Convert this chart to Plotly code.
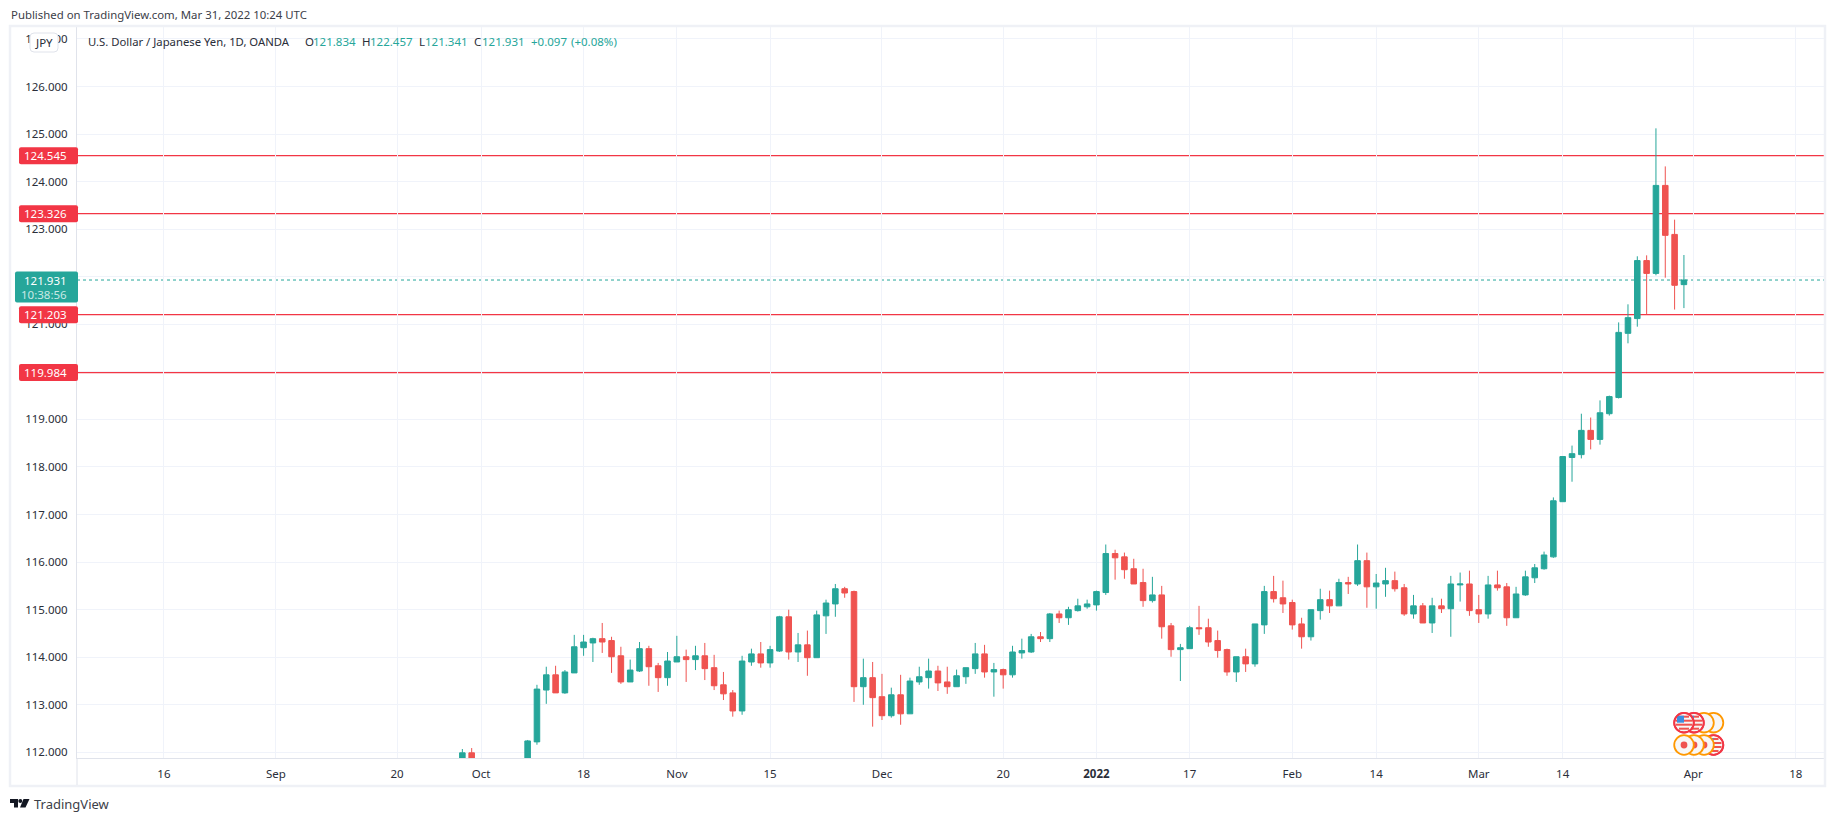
import plotly.graph_objects as go

# bar position: trading days counted from 2021-10-01 (weekends are not on the axis)
bar_index = [-2, -1] + list(range(5, 130))
open_ = [111.50, 111.99, 111.60, 112.22, 113.31, 113.63, 113.25, 113.67, 114.20, 114.30,
         114.39, 114.35, 114.03, 113.48, 113.71, 114.18, 113.82, 113.57, 113.90, 114.01,
         113.95, 114.03, 113.78, 113.42, 113.25, 112.87, 113.90, 114.07, 113.88, 114.13,
         114.85, 114.11, 114.26, 113.99, 114.87, 115.12, 115.44, 115.38, 113.38, 113.57,
         113.17, 112.77, 113.21, 112.81, 113.48, 113.57, 113.71, 113.48, 113.38, 113.59,
         113.76, 114.07, 113.69, 113.74, 113.63, 114.09, 114.11, 114.43, 114.39, 114.91,
         114.83, 114.98, 115.06, 115.10, 115.36, 116.18, 116.11, 115.86, 115.57, 115.19,
         115.31, 114.66, 114.16, 114.18, 114.62, 114.62, 114.35, 114.16, 113.69, 114.01,
         113.86, 114.68, 115.38, 115.25, 115.15, 114.70, 114.43, 114.98, 115.21, 115.08,
         115.57, 115.54, 116.03, 115.48, 115.54, 115.61, 115.46, 114.91, 115.08, 114.72,
         115.08, 115.02, 115.52, 115.54, 115.00, 114.91, 115.52, 115.48, 114.83, 115.31,
         115.67, 115.86, 116.11, 117.27, 118.20, 118.26, 118.77, 118.58, 119.12, 119.46,
         120.81, 121.12, 122.34, 122.07, 123.92, 122.89, 121.834]
high = [112.07, 112.09, 112.26, 113.42, 113.80, 113.82, 113.73, 114.47, 114.47, 114.41,
        114.72, 114.43, 114.22, 113.95, 114.32, 114.24, 113.88, 114.11, 114.45, 114.16,
        114.24, 114.30, 114.05, 113.69, 113.31, 114.03, 114.18, 114.32, 114.24, 114.87,
        115.00, 114.51, 114.56, 114.98, 115.21, 115.54, 115.48, 115.40, 113.97, 113.90,
        113.65, 113.36, 113.63, 113.57, 113.80, 113.97, 113.82, 113.80, 113.74, 113.78,
        114.30, 114.26, 113.88, 113.76, 114.24, 114.39, 114.49, 114.53, 114.93, 114.98,
        115.06, 115.23, 115.21, 115.40, 116.37, 116.26, 116.20, 116.07, 115.86, 115.69,
        115.50, 114.72, 114.28, 114.66, 115.08, 114.81, 114.56, 114.18, 114.01, 114.18,
        114.70, 115.50, 115.71, 115.61, 115.21, 114.83, 115.00, 115.44, 115.40, 115.65,
        115.69, 116.37, 116.20, 115.75, 115.88, 115.80, 115.54, 115.31, 115.14, 115.25,
        115.23, 115.71, 115.78, 115.82, 115.31, 115.71, 115.82, 115.56, 115.48, 115.82,
        115.96, 116.22, 117.36, 118.22, 118.45, 119.12, 119.04, 119.40, 119.50, 121.04,
        121.42, 122.43, 122.45, 125.12, 124.32, 123.20, 122.457]
low = [111.40, 111.20, 111.50, 112.16, 113.02, 113.25, 113.23, 113.67, 114.03, 113.90,
       114.09, 113.67, 113.44, 113.48, 113.69, 113.40, 113.27, 113.40, 113.90, 113.48,
       113.73, 113.52, 113.31, 113.10, 112.75, 112.79, 113.82, 113.78, 113.78, 114.11,
       113.95, 113.90, 113.61, 113.99, 114.49, 114.85, 115.25, 113.06, 113.00, 112.54,
       112.68, 112.73, 112.58, 112.81, 113.42, 113.34, 113.29, 113.23, 113.38, 113.44,
       113.65, 113.57, 113.17, 113.34, 113.57, 113.97, 114.09, 114.32, 114.32, 114.72,
       114.68, 114.96, 115.02, 114.98, 115.31, 115.63, 115.65, 115.54, 115.06, 115.15,
       114.39, 114.01, 113.50, 114.18, 114.47, 114.22, 113.99, 113.61, 113.48, 113.69,
       113.80, 114.49, 115.15, 114.93, 114.58, 114.18, 114.35, 114.79, 114.93, 115.08,
       115.33, 115.50, 115.04, 115.02, 115.27, 115.38, 114.87, 114.81, 114.72, 114.51,
       114.93, 114.43, 115.17, 114.87, 114.72, 114.81, 115.40, 114.66, 114.83, 115.29,
       115.56, 115.84, 116.09, 117.27, 117.69, 118.18, 118.37, 118.47, 119.08, 119.44,
       120.60, 120.95, 121.21, 122.03, 121.98, 121.31, 121.341]
close = [111.99, 111.30, 112.24, 113.33, 113.63, 113.25, 113.69, 114.22, 114.32, 114.39,
         114.32, 114.01, 113.48, 113.73, 114.18, 113.80, 113.57, 113.92, 114.01, 113.95,
         114.03, 113.76, 113.40, 113.23, 112.87, 113.92, 114.07, 113.88, 114.16, 114.85,
         114.11, 114.26, 113.99, 114.89, 115.14, 115.44, 115.35, 113.38, 113.57, 113.15,
         112.77, 113.21, 112.81, 113.50, 113.59, 113.71, 113.46, 113.38, 113.61, 113.78,
         114.07, 113.69, 113.74, 113.63, 114.11, 114.14, 114.43, 114.39, 114.91, 114.83,
         115.00, 115.08, 115.12, 115.38, 116.18, 116.09, 115.84, 115.54, 115.19, 115.31,
         114.64, 114.16, 114.20, 114.62, 114.60, 114.32, 114.14, 113.69, 114.01, 113.86,
         114.70, 115.38, 115.23, 115.12, 114.68, 114.43, 115.00, 115.21, 115.08, 115.57,
         115.54, 116.03, 115.48, 115.56, 115.61, 115.44, 114.91, 115.08, 114.72, 115.08,
         115.02, 115.54, 115.54, 114.98, 114.91, 115.52, 115.46, 114.83, 115.33, 115.69,
         115.88, 116.15, 117.29, 118.22, 118.28, 118.77, 118.58, 119.14, 119.48, 120.83,
         121.14, 122.34, 122.07, 123.92, 122.87, 121.82, 121.931]
assert len(bar_index) == len(open_) == len(high) == len(low) == len(close)

# tick marks on the time axis
tick_bars = [-34, -22, -9, 0, 11, 21, 31, 43, 56, 66, 76, 87, 96, 107, 116, 130, 141]
tick_labels = ["16", "Sep", "20", "Oct", "18", "Nov", "15", "Dec", "20", "<b>2022</b>",
               "17", "Feb", "14", "Mar", "14", "Apr", "18"]
price_ticks = [112, 113, 114, 115, 116, 117, 118, 119, 120, 121, 122, 123, 124, 125, 126, 127]
level_prices = [124.545, 123.326, 121.203, 119.984]
last_price = 121.931
countdown = "10:38:56"
title_text = "Published on TradingView.com, Mar 31, 2022 10:24 UTC"
symbol_text = "U.S. Dollar / Japanese Yen, 1D, OANDA"
legend_letters = ["O", "H", "L", "C"]
legend_values = ["121.834", "122.457", "121.341", "121.931"]
change_text = "+0.097"
change_pct_text = "(+0.08%)"

W, H = 1834, 821
L, R, T, B = 77, 1824, 27, 758
GREEN, RED, LEVEL = "#26a69a", "#ef5350", "#f23645"
ORANGE = "#ff9800"
INK, GRID, AXIS, FRAME = "#2a2e39", "#f0f3fa", "#e0e3eb", "#eff1f6"
FONT = "Noto Sans"


def px(x):
    return (x - L) / (R - L)


def py(y):
    return 1 - (y - T) / (B - T)


def rrect(x0, y0, x1, y1, r=2):
    a, b, c, d = px(x0), py(y0), px(x1), py(y1)
    rx, ry = r / (R - L), r / (B - T)
    return (f"M{a + rx},{b} L{c - rx},{b} Q{c},{b} {c},{b - ry} L{c},{d + ry} "
            f"Q{c},{d} {c - rx},{d} L{a + rx},{d} Q{a},{d} {a},{d + ry} "
            f"L{a},{b - ry} Q{a},{b} {a + rx},{b} Z")


def price_to_y(v):
    return 86.5 + (126 - v) * 47.56


def box(x0, y0, x1, y1, fill, line=None, width=0, r=2):
    return dict(type="path", xref="paper", yref="paper", path=rrect(x0, y0, x1, y1, r),
                fillcolor=fill, line=dict(color=line or fill, width=width), layer="above")


def disc(cx, cy, r, fill, line=None, width=0):
    return dict(type="circle", xref="paper", yref="paper",
                x0=px(cx - r), x1=px(cx + r), y0=py(cy + r), y1=py(cy - r),
                fillcolor=fill, line=dict(color=line or fill, width=width), layer="above")


def rect(x0, y0, x1, y1, fill):
    return dict(type="rect", xref="paper", yref="paper",
                x0=px(x0), x1=px(x1), y0=py(y1), y1=py(y0),
                fillcolor=fill, line=dict(width=0), layer="above")


def text(x, y, s, color=INK, size=11.5, anchor="left", bold=False):
    return dict(xref="paper", yref="paper", x=px(x), y=py(y), text=f"<b>{s}</b>" if bold else s,
                showarrow=False, xanchor=anchor, yanchor="middle",
                font=dict(family=FONT, size=size, color=color), borderpad=0)


fig = go.Figure(go.Candlestick(
    x=bar_index, open=open_, high=high, low=low, close=close,
    increasing=dict(line=dict(color=GREEN, width=1), fillcolor=GREEN),
    decreasing=dict(line=dict(color=RED, width=1), fillcolor=RED),
    whiskerwidth=0, hoverinfo="skip", showlegend=False,
))

shapes = []
# last price line and support / resistance levels sit under the candles
shapes.append(dict(type="line", xref="paper", yref="y", x0=0, x1=1, y0=last_price, y1=last_price,
                   line=dict(color=GREEN, width=1, dash="dot"), layer="below"))
for p in level_prices:
    shapes.append(dict(type="line", xref="paper", yref="y", x0=0, x1=1, y0=p, y1=p,
                       line=dict(color=LEVEL, width=1.2), layer="below"))

# outer frame and the axis separator below the plot
shapes.append(dict(type="rect", xref="paper", yref="paper", x0=px(10), x1=px(1825), y0=py(786), y1=py(26),
                   line=dict(color=FRAME, width=2.5), fillcolor="rgba(0,0,0,0)", layer="above"))
shapes.append(dict(type="line", xref="paper", yref="paper", x0=0, x1=0, y0=py(B), y1=py(785),
                   line=dict(color=AXIS, width=1), layer="above"))

annotations = [
    text(10, 15, title_text, color="#3c4048", size=11.4),
    text(86.5, 42, symbol_text, color=INK, size=11.3),
]
for lx, vx, letter, val in zip([304, 361, 418, 473], [312, 369, 424, 481], legend_letters, legend_values):
    annotations.append(text(lx, 42, letter, color=INK))
    annotations.append(text(vx, 42, val, color=GREEN))
annotations.append(text(530, 42, change_text, color=GREEN))
annotations.append(text(570, 42, change_pct_text, color=GREEN))

# JPY currency button over the top tick label
shapes.append(box(30, 33, 58, 52, "#ffffff", line=AXIS, width=1, r=4))
annotations.append(text(44, 42.5, "JPY", color=INK, size=11.5, anchor="center"))

# price labels on the axis
for p in level_prices:
    yc = price_to_y(p)
    shapes.append(box(19, yc - 8.5, 78, yc + 8.5, LEVEL))
    annotations.append(text(67.5, yc, f"{p:.3f}", color="#ffffff", size=11.5, anchor="right"))
yc = price_to_y(last_price)
shapes.append(box(15, yc - 8.5, 78, yc + 22.5, GREEN))
annotations.append(text(67.5, yc, f"{last_price:.3f}", color="#ffffff", size=11.5, anchor="right"))
annotations.append(text(67.5, yc + 14, countdown, color="#c9e9e5", size=11.5, anchor="right"))

# TradingView wordmark
shapes.append(dict(type="path", xref="paper", yref="paper", line=dict(width=0), fillcolor="#131722", layer="above",
                   path=(f"M{px(10)},{py(799)} L{px(18)},{py(799)} L{px(18)},{py(807.5)} L{px(14)},{py(807.5)} "
                         f"L{px(14)},{py(803)} L{px(10)},{py(803)} Z "
                         f"M{px(23.5)},{py(799)} L{px(29.5)},{py(799)} L{px(25.5)},{py(807.5)} L{px(20)},{py(807.5)} Z")))
shapes.append(disc(20.3, 801, 2, "#131722"))
annotations.append(text(33, 803.5, "TradingView", color="#3c4048", size=13))

# economic event markers
ROW_X = [1713.5, 1704, 1694, 1684]
def us_flag(cx, cy):
    out = [disc(cx, cy, 8.5, "#f7f7f7")]
    for dy, half in [(-6, 5), (-2, 8), (2, 8), (6, 5)]:
        out.append(rect(cx - half, cy + dy - 1, cx + half, cy + dy + 1, RED))
    out.append(rect(cx - 7, cy - 7, cx, cy, "#3d8ee0"))
    return out

for cx, col in zip(ROW_X, [ORANGE, ORANGE, LEVEL, LEVEL]):
    shapes.append(disc(cx, 722.7, 9.8, "#f7f7f7", line=col, width=1.8))
    if col == LEVEL:
        shapes.extend(us_flag(cx, 722.7))
        shapes.append(disc(cx, 722.7, 9.8, "rgba(0,0,0,0)", line=col, width=1.8))
for cx, col in zip(ROW_X, [LEVEL, ORANGE, ORANGE, ORANGE]):
    shapes.append(disc(cx, 745, 9.8, "#f7f7f7", line=col, width=1.8))
    if col == LEVEL:
        shapes.extend(us_flag(cx, 745))
        shapes.append(disc(cx, 745, 9.8, "rgba(0,0,0,0)", line=col, width=1.8))
    else:
        shapes.append(disc(cx, 745, 3.4, RED))

fig.update_layout(
    width=W, height=H, autosize=False,
    margin=dict(l=L, r=W - R, t=T, b=H - B, pad=0),
    paper_bgcolor="#ffffff", plot_bgcolor="#ffffff",
    font=dict(family=FONT, size=11.5, color=INK),
    boxgap=0.15, hovermode=False, dragmode=False,
    shapes=shapes, annotations=annotations,
    xaxis=dict(
        range=[(L - 481) / 9.325, (R - 481) / 9.325], rangeslider=dict(visible=False),
        tickmode="array", tickvals=tick_bars, ticktext=tick_labels,
        showgrid=True, gridcolor=GRID, gridwidth=1, zeroline=False,
        showline=True, linecolor=AXIS, linewidth=1,
        ticks="outside", ticklen=5, tickcolor="rgba(0,0,0,0)",
        tickfont=dict(family=FONT, size=11.5, color=INK),
    ),
    yaxis=dict(
        range=[126 - (B - 86.5) / 47.56, 126 + (86.5 - T) / 47.56],
        tickmode="array", tickvals=price_ticks, tickformat=".3f",
        showgrid=True, gridcolor=GRID, gridwidth=1, zeroline=False,
        showline=True, linecolor=AXIS, linewidth=1,
        ticks="outside", ticklen=6, tickcolor="rgba(0,0,0,0)",
        tickfont=dict(family=FONT, size=11.5, color=INK),
    ),
)

fig.write_html("out.html", config=dict(displayModeBar=False, responsive=False),
               post_script="document.body.style.margin='0';document.body.style.overflow='hidden';")
